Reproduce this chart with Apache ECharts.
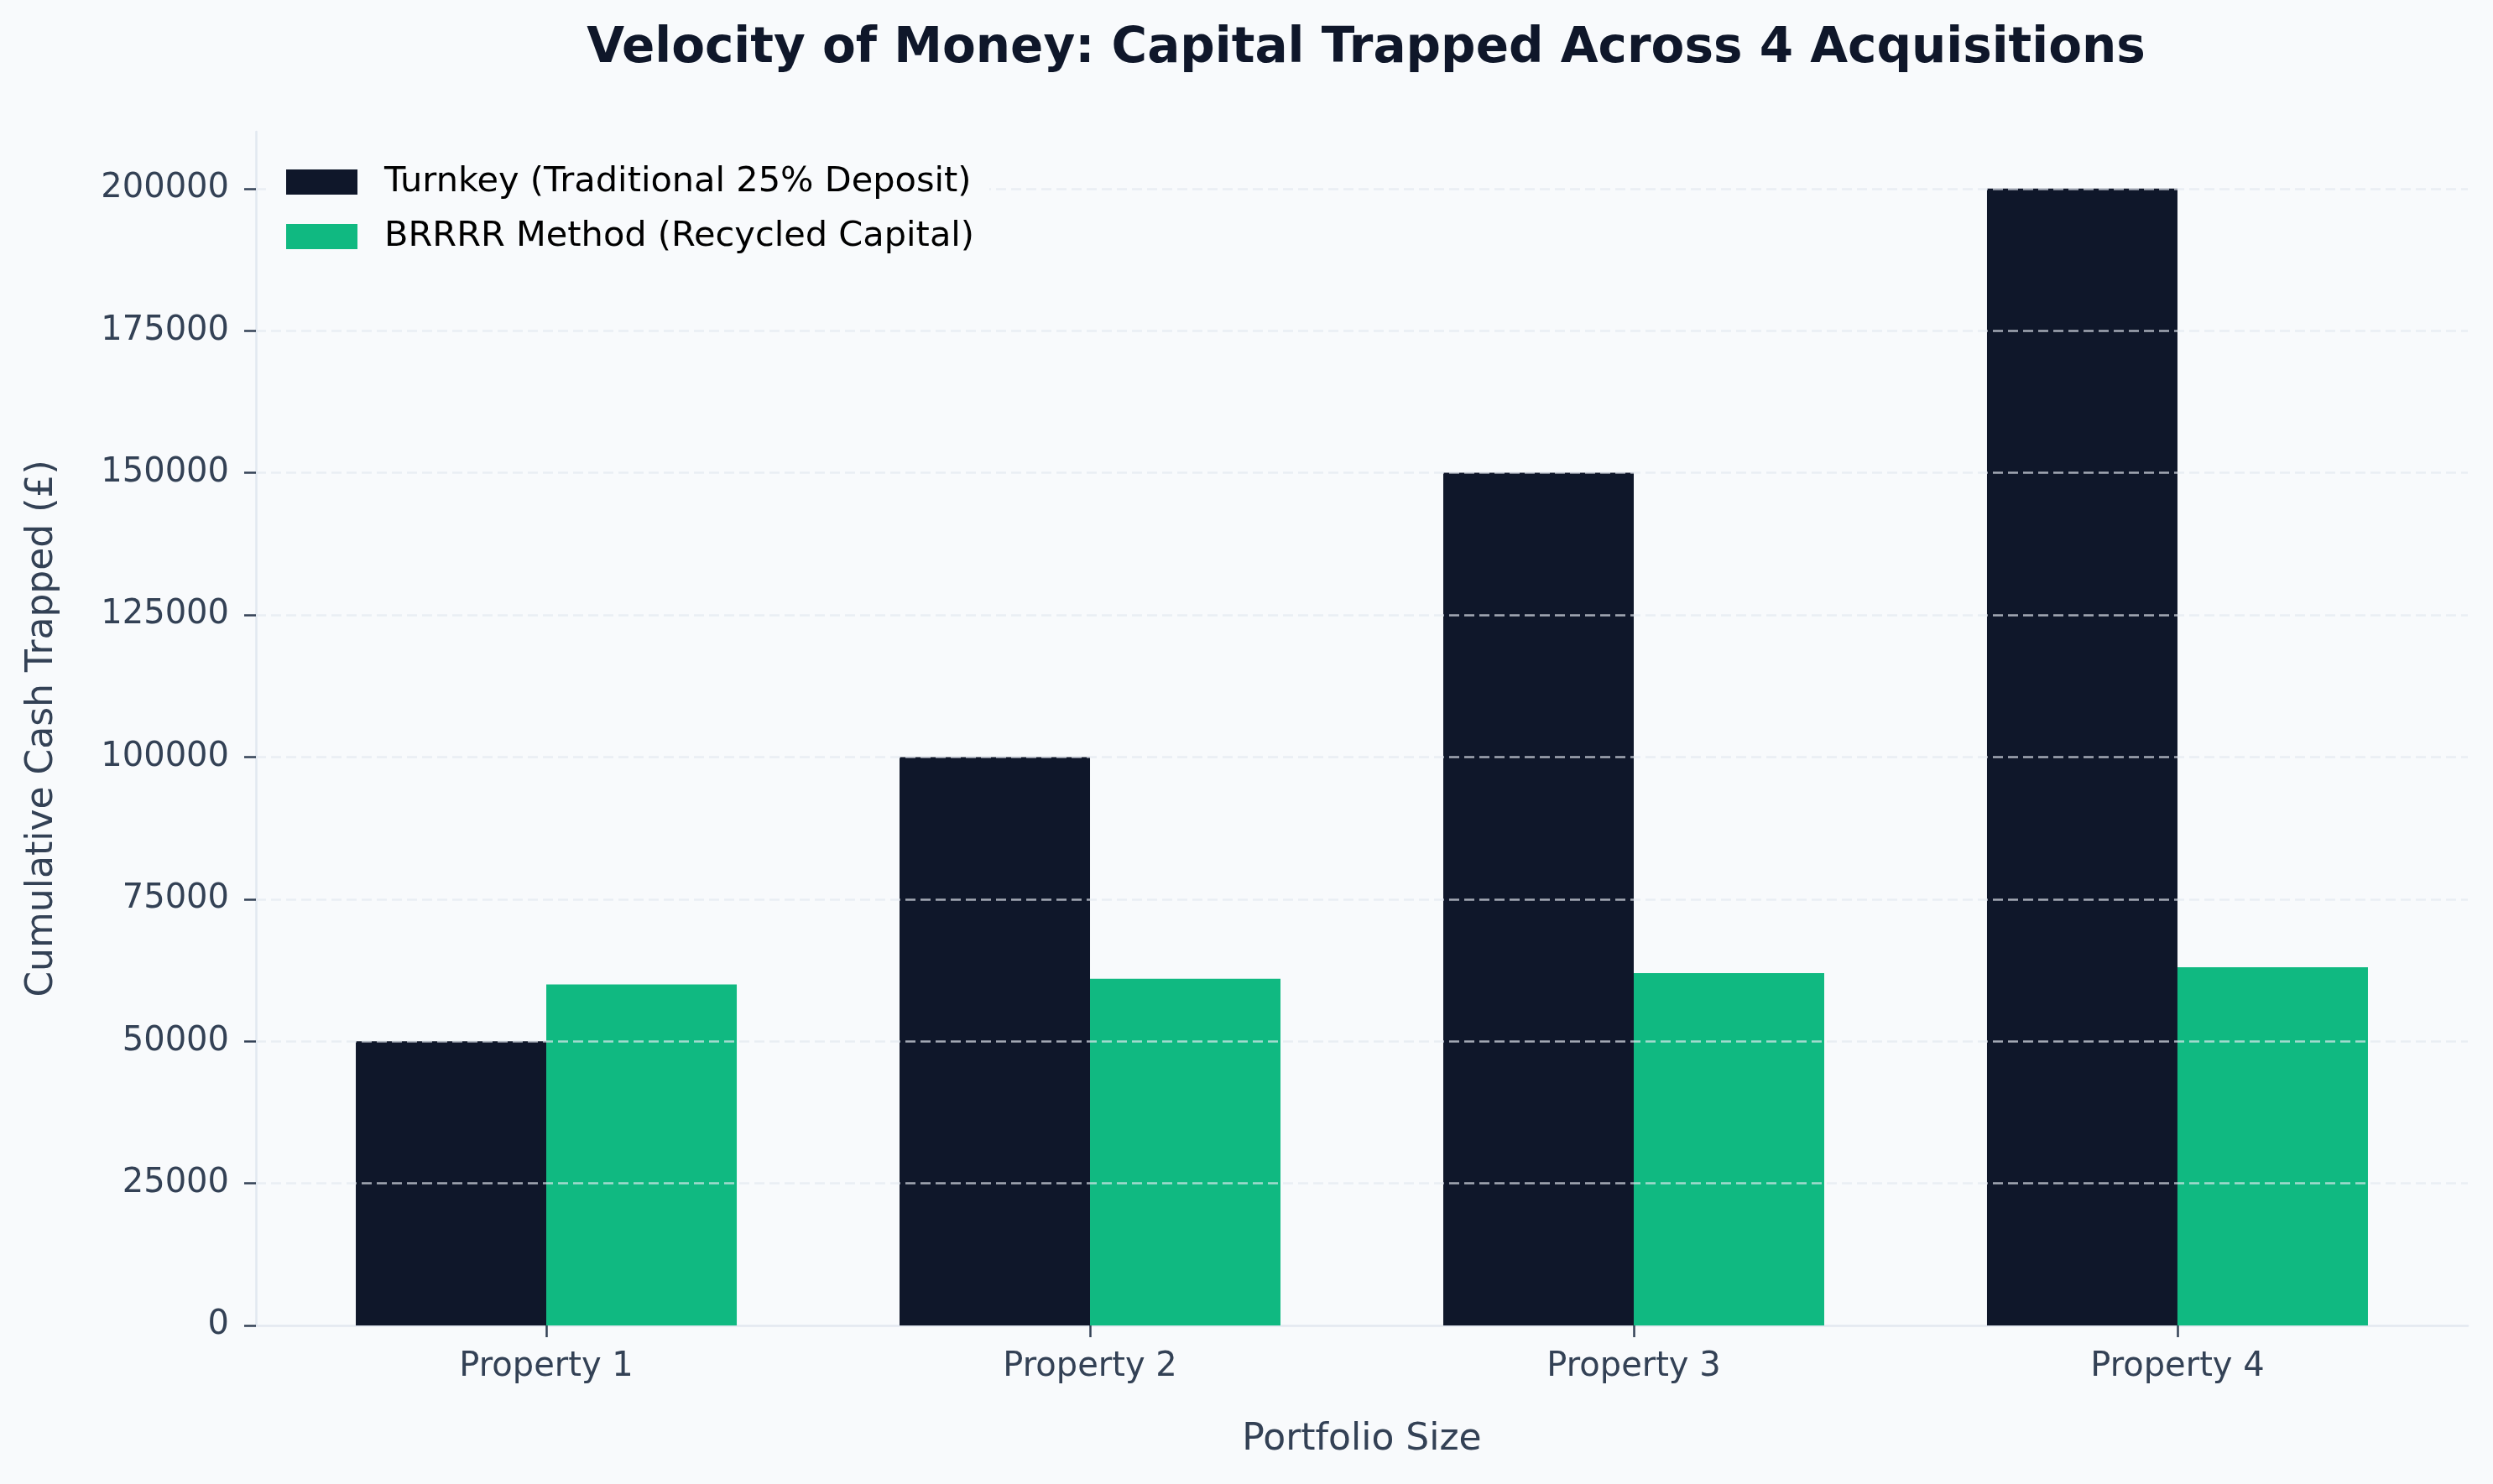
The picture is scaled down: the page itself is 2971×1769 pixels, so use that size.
<!DOCTYPE html>
<html>
<head>
<meta charset="utf-8">
<script src="https://cdn.jsdelivr.net/npm/echarts@6/dist/echarts.min.js"></script>
<style>
  html, body { margin: 0; padding: 0; background: #f8fafc; }
  #chart { width: 2971px; height: 1769px; }
</style>
</head>
<body>
<div id="chart"></div>
<script>
// data
const categories = ['Property 1', 'Property 2', 'Property 3', 'Property 4'];
const turnkey = [50000, 100000, 150000, 200000];
const brrrr = [60000, 61000, 62000, 63000];
const seriesNames = ['Turnkey (Traditional 25% Deposit)', 'BRRRR Method (Recycled Capital)'];
const yTicks = [0, 25000, 50000, 75000, 100000, 125000, 150000, 175000, 200000];
const xTicks = [0, 1, 2, 3];

const font = 'DejaVu Sans';
const labelColor = '#334155';
const spineColor = '#e2e8f0';

const chart = echarts.init(document.getElementById('chart'));

chart.setOption({
  backgroundColor: '#f8fafc',
  animation: false,
  title: {
    text: 'Velocity of Money: Capital Trapped Across 4 Acquisitions',
    left: 1623,
    textAlign: 'center',
    top: 25,
    textStyle: { fontFamily: font, fontSize: 58, fontWeight: 'bold', color: '#0f172a' }
  },
  legend: {
    orient: 'vertical',
    left: 321,
    top: 182,
    z: 10,
    padding: [14, 18, 14, 20],
    backgroundColor: '#f8fafc',
    itemWidth: 85,
    itemHeight: 30,
    itemGap: 23,
    icon: 'rect',
    data: seriesNames,
    textStyle: { fontFamily: font, fontSize: 41.5, lineHeight: 41, color: '#000000', padding: [0, 0, 0, 27] }
  },
  grid: { left: 305, right: 30, top: 157, bottom: 189 },
  xAxis: {
    type: 'value',
    min: -0.534,
    max: 3.534,
    name: 'Portfolio Size',
    nameLocation: 'middle',
    nameGap: 115,
    nameTextStyle: { fontFamily: font, fontSize: 44, color: labelColor },
    axisLine: { show: true, onZero: false, lineStyle: { color: spineColor, width: 2.5 } },
    axisTick: { show: true, customValues: xTicks, length: 14, lineStyle: { color: labelColor, width: 2.5 } },
    axisLabel: {
      customValues: xTicks,
      margin: 30,
      fontFamily: font, fontSize: 40, color: labelColor,
      formatter: v => categories[Math.round(v)]
    },
    splitLine: { show: false }
  },
  yAxis: {
    type: 'value',
    min: 0,
    max: 210000,
    interval: 25000,
    z: 5,
    name: 'Cumulative Cash Trapped (£)',
    nameLocation: 'middle',
    nameGap: 232,
    nameTextStyle: { fontFamily: font, fontSize: 44, color: labelColor },
    axisLine: { show: true, onZero: false, lineStyle: { color: spineColor, width: 2.5 } },
    axisTick: { show: true, customValues: yTicks, length: 14, lineStyle: { color: labelColor, width: 2.5 } },
    axisLabel: {
      customValues: yTicks,
      margin: 32,
      fontFamily: font, fontSize: 40, color: labelColor,
      formatter: v => String(v)
    },
    splitLine: {
      show: true,
      showMinLine: false,
      lineStyle: { color: 'rgba(226,232,240,0.7)', width: 2.5, type: [12, 6] }
    }
  },
  series: [
    {
      name: seriesNames[0],
      type: 'bar',
      barWidth: 227,
      barGap: '0%',
      itemStyle: { color: '#0f172a' },
      data: categories.map((c, i) => [i, turnkey[i]])
    },
    {
      name: seriesNames[1],
      type: 'bar',
      barWidth: 227,
      barGap: '0%',
      itemStyle: { color: '#10b981' },
      data: categories.map((c, i) => [i, brrrr[i]])
    }
  ]
});
</script>
</body>
</html>
